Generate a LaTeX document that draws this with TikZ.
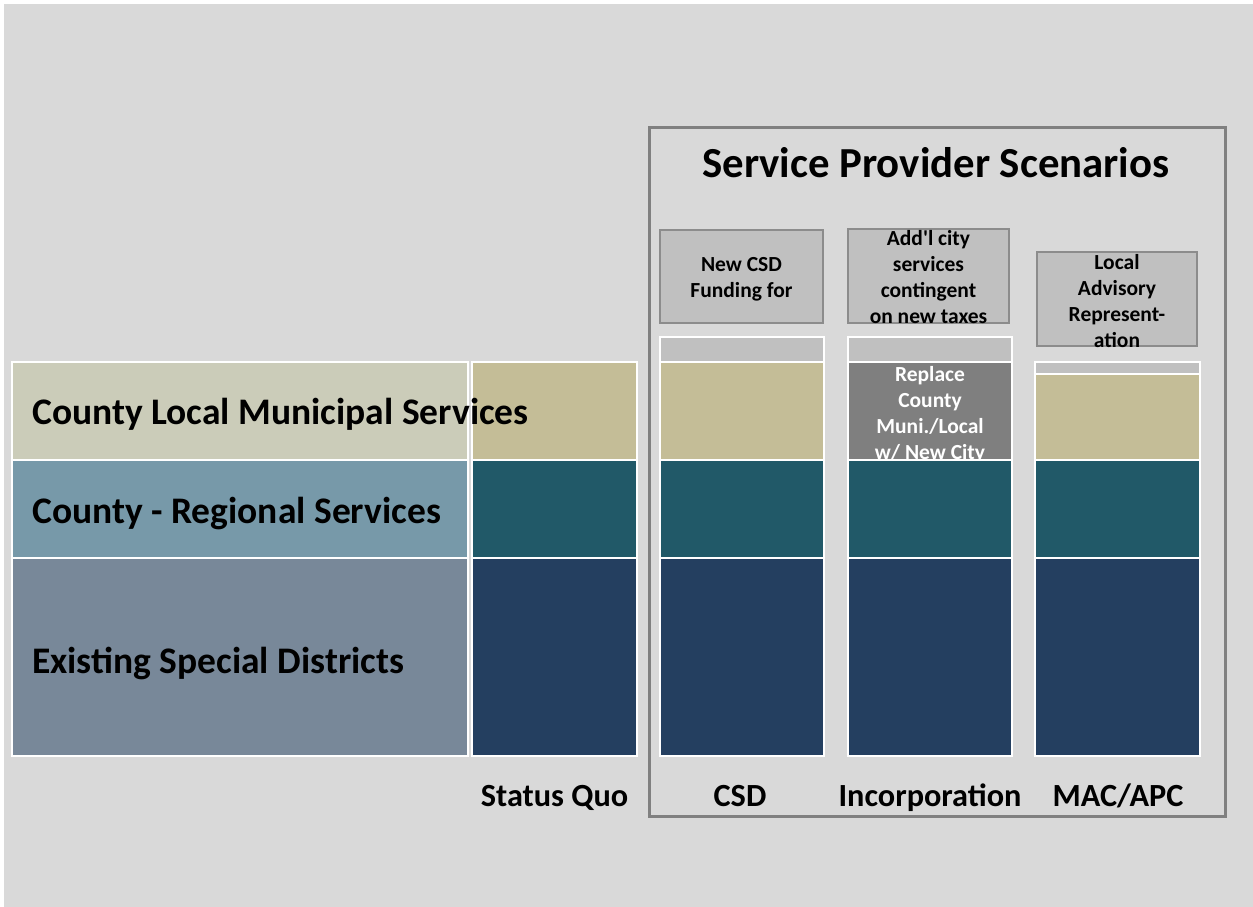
\documentclass[tikz,border=0pt]{standalone}
\usepackage{fontspec}
\setmainfont{Carlito}
\newcommand\straightquote{\XeTeXglyph\XeTeXcharglyph"0027\relax}
\definecolor{pagebg}{HTML}{D9D9D9}
\definecolor{lightolive}{HTML}{CBCCB9}
\definecolor{lightteal}{HTML}{7799A9}
\definecolor{slate}{HTML}{788899}
\definecolor{tan}{HTML}{C4BD97}
\definecolor{deepteal}{HTML}{215968}
\definecolor{navy}{HTML}{243F60}
\definecolor{boxgray}{HTML}{C0C0C0}
\definecolor{boxedge}{HTML}{8C8C8C}
\definecolor{midgray}{HTML}{7F7F7F}
\definecolor{framegray}{HTML}{808080}
\begin{document}
\begin{tikzpicture}[x=1pt,y=-1pt,
  cell/.style={draw=white, line width=1.5pt, inner sep=0pt, outer sep=0pt, anchor=north west},
  notebox/.style={draw=boxedge, fill=boxgray, line width=1.8pt, inner sep=0pt, outer sep=0pt, anchor=north west},
  rowlabel/.style={font=\fontsize{37.5}{44}\selectfont\bfseries, anchor=west, inner sep=0pt},
  collabel/.style={font=\fontsize{32.3}{38}\selectfont\bfseries, anchor=base, inner sep=0pt},
  notetext/.style={font=\fontsize{21.5}{26}\selectfont\bfseries, align=center, inner sep=0pt}]
\useasboundingbox (0,0) rectangle (1253,907);
\fill[pagebg] (4,4) rectangle (1253,907);

% scenario frame
\node[draw=framegray, line width=2.5pt, inner sep=0pt, anchor=north west,
      minimum width=576pt, minimum height=689pt] (frame) at (648,126) {};
\node[font=\fontsize{42.8}{50}\selectfont\bfseries, inner sep=0pt] (title) at (936,163) {Service Provider Scenarios};

% note boxes above the scenario columns
\node[notebox, minimum width=163pt, minimum height=93pt] (csdnote) at (660,230) {};
\node[notebox, minimum width=161pt, minimum height=94pt] (incnote) at (848,229) {};
\node[notebox, minimum width=160pt, minimum height=94pt] (macnote) at (1037,252) {};
\node[notetext] (csdtext) at ([yshift=-2.5pt]csdnote.center) {New CSD\\Funding for};
\node[notetext] (inctop) at ([yshift=-1.5pt]incnote.center) {Add\straightquote l city\\services\\contingent\\on new taxes};
\node[notetext] (mactext) at ([yshift=-2.5pt]macnote.center) {Local\\Advisory\\Represent-\\ation};

% small gray caps on the scenario columns
\node[cell, fill=boxgray, minimum width=164pt, minimum height=25pt] (csdcap) at (660,337) {};
\node[cell, fill=boxgray, minimum width=164pt, minimum height=25pt] (inccap) at (848,337) {};
\node[cell, fill=boxgray, minimum width=165pt, minimum height=12pt] (maccap) at (1035,362) {};

% row 1: local municipal services
\node[cell, fill=lightolive, minimum width=456pt, minimum height=98pt] (lbl1) at (12,362) {};
\node[cell, fill=tan, minimum width=165pt, minimum height=98pt] (sq1) at (472,362) {};
\node[cell, fill=tan, minimum width=164pt, minimum height=98pt] (csd1) at (660,362) {};
\node[cell, fill=midgray, minimum width=164pt, minimum height=98pt] (inc1) at (848,362) {};
\node[cell, fill=tan, minimum width=165pt, minimum height=86pt] (mac1) at (1035,374) {};
\node[notetext, text=white] (inctext) at ([yshift=-3.5pt]inc1.center) {Replace\\County\\Muni./Local\\w/ New City};

% row 2: regional services (drawn over the overflow of the text above)
\node[cell, fill=lightteal, minimum width=456pt, minimum height=98pt] (lbl2) at (12,460) {};
\node[cell, fill=deepteal, minimum width=165pt, minimum height=98pt] (sq2) at (472,460) {};
\node[cell, fill=deepteal, minimum width=164pt, minimum height=98pt] (csd2) at (660,460) {};
\node[cell, fill=deepteal, minimum width=164pt, minimum height=98pt] (inc2) at (848,460) {};
\node[cell, fill=deepteal, minimum width=165pt, minimum height=98pt] (mac2) at (1035,460) {};

% row 3: special districts
\node[cell, fill=slate, minimum width=456pt, minimum height=198pt] (lbl3) at (12,558) {};
\node[cell, fill=navy, minimum width=165pt, minimum height=198pt] (sq3) at (472,558) {};
\node[cell, fill=navy, minimum width=164pt, minimum height=198pt] (csd3) at (660,558) {};
\node[cell, fill=navy, minimum width=164pt, minimum height=198pt] (inc3) at (848,558) {};
\node[cell, fill=navy, minimum width=165pt, minimum height=198pt] (mac3) at (1035,558) {};

% row labels
\node[rowlabel] (rowa) at (32,414) {County Local Municipal Services};
\node[rowlabel] (rowb) at (32,513.5) {County - Regional Services};
\node[rowlabel] (rowc) at (32,663) {Existing Special Districts};

% column labels
\node[collabel] (colsq) at (554.5,806.5) {Status Quo};
\node[collabel] (colcsd) at (740,806.5) {CSD};
\node[collabel] (colinc) at (930,806.5) {Incorporation};
\node[collabel] (colmac) at (1118,806.5) {MAC/APC};
\end{tikzpicture}
\end{document}
